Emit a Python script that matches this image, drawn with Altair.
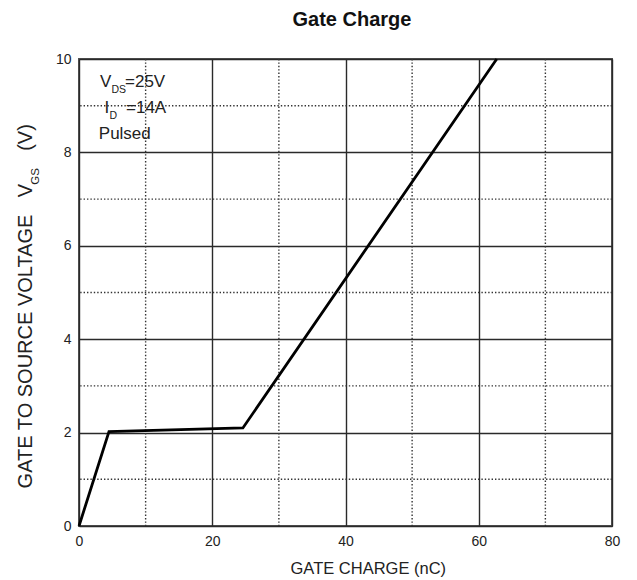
import altair as alt
import pandas as pd

# ---- data ----
gate_charge = [0, 4.5, 24.6, 62.7]      # nC
vgs = [0, 2.02, 2.1, 10]                # V
x_major = [0, 20, 40, 60, 80]
y_major = [0, 2, 4, 6, 8, 10]
x_minor = [10, 30, 50, 70]
y_minor = [1, 3, 5, 7, 9]

W, H = 533, 467
FONT = "Liberation Sans"
TXT = "#222222"

xs = alt.Scale(domain=[0, 80], nice=False, zero=False)
ys = alt.Scale(domain=[0, 10], nice=False, zero=False)

axis_common = dict(
    title=None, grid=True, gridColor="#2a2a2a", gridWidth=1.4,
    domain=False, ticks=False, tickSize=0,
    labelFont=FONT, labelFontSize=14, labelColor=TXT,
    labelPadding=8, labelFlush=False, labelOverlap=False,
)
x_axis = alt.Axis(values=x_major, **axis_common)
y_axis = alt.Axis(values=y_major, **axis_common)

df = pd.DataFrame({"q": gate_charge, "v": vgs})

minor_x = alt.Chart(pd.DataFrame({"x": x_minor})).mark_rule(
    color="#333333", strokeWidth=1.4, strokeDash=[1.4, 2.0]
).encode(x=alt.X("x:Q", scale=xs, axis=x_axis))

minor_y = alt.Chart(pd.DataFrame({"y": y_minor})).mark_rule(
    color="#333333", strokeWidth=1.4, strokeDash=[1.4, 2.0]
).encode(y=alt.Y("y:Q", scale=ys, axis=y_axis))

line = alt.Chart(df).mark_line(color="black", strokeWidth=2.8).encode(
    x=alt.X("q:Q", scale=xs, axis=x_axis),
    y=alt.Y("v:Q", scale=ys, axis=y_axis),
)


def label(text, x, y, size, align="left", angle=0, bold=False, color=TXT):
    kw = dict(align=align, baseline="alphabetic", font=FONT, fontSize=size,
              color=color, fontWeight="bold" if bold else "normal")
    if angle:
        kw["angle"] = angle
    return alt.Chart(pd.DataFrame({"t": [text]})).mark_text(**kw).encode(
        text="t:N", x=alt.value(x), y=alt.value(y)
    )


texts = [
    label("Gate Charge", 273, -33, 20, align="center", bold=True, color="#111111"),
    label("GATE CHARGE (nC)", 289.3, 515.3, 16.5, align="center"),
    # y title (rotated)
    label("GATE TO SOURCE VOLTAGE", -47, 292.5, 20, align="center", angle=270),
    label("V", -47, 131.5, 20, align="center", angle=270),
    label("GS", -40.5, 117.5, 11.5, align="center", angle=270),
    label("(V)", -47, 78.5, 20, align="center", angle=270),
    # condition annotation
    label("V", 21, 27.7, 17),
    label("DS", 32.5, 34.3, 10.5),
    label("=25V", 46, 27.7, 17),
    label("I", 25.5, 53.7, 17),
    label("D", 30.5, 60.3, 10.5),
    label("=14A", 47, 53.7, 17),
    label("Pulsed", 19.8, 80, 17),
]

chart = alt.layer(minor_x, minor_y, line, *texts).properties(
    width=W, height=H,
    padding={"left": 79, "top": 59, "right": 25, "bottom": 54},
    autosize=alt.AutoSizeParams(type="none"),
    background="white",
).configure_view(stroke="#555555", strokeWidth=2)

chart.save("out.html", embed_options={"renderer": "svg", "actions": False})
